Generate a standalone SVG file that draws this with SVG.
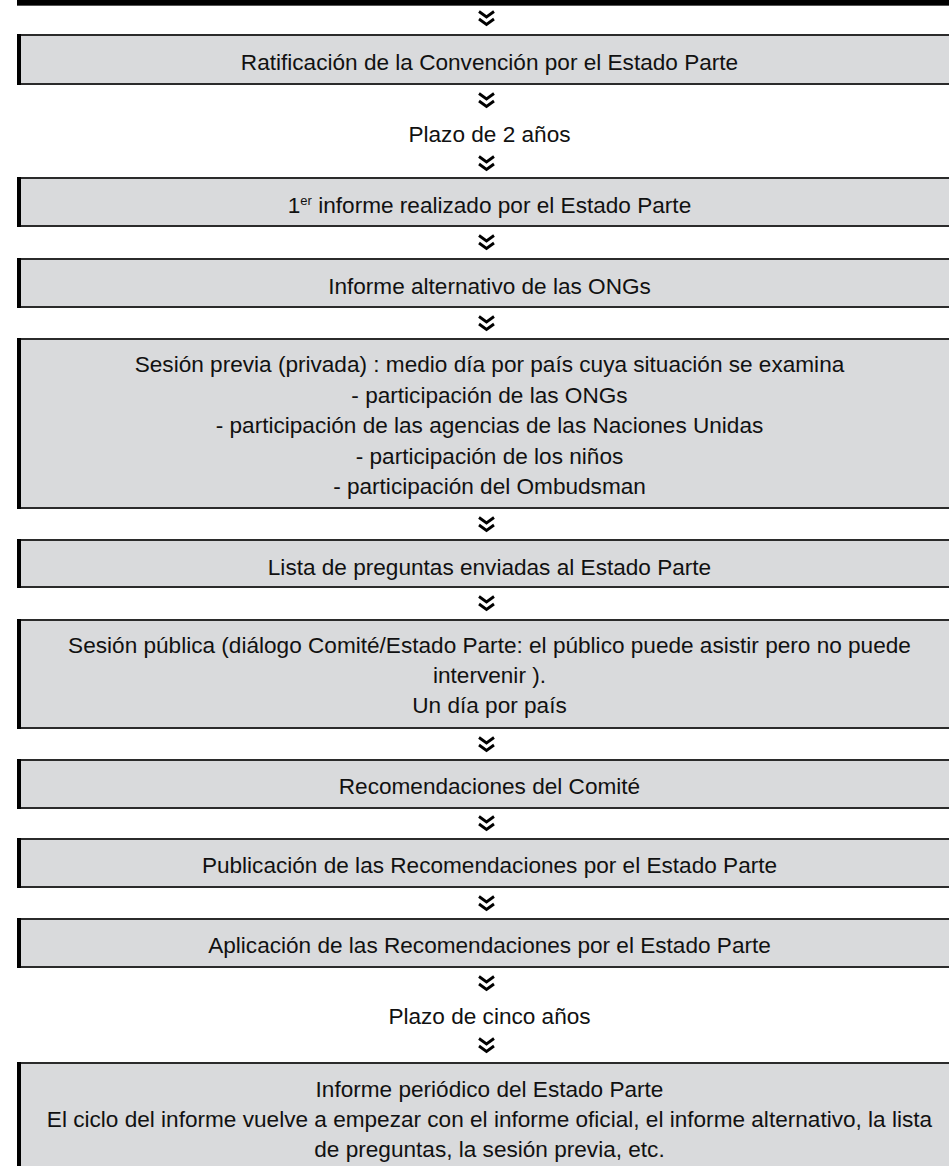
<svg xmlns="http://www.w3.org/2000/svg" width="949" height="1166" viewBox="0 0 949 1166">
<defs>
<style>
.bg{fill:#d9dadc;stroke:#2b2b2b;stroke-width:2}
.lb{fill:#000}
.t{font-family:"Liberation Sans",Arial,sans-serif;font-size:22.6px;fill:#111;text-anchor:middle}
.chev{fill:none;stroke:#000;stroke-width:2.8;stroke-linejoin:miter}
</style>
<g id="chevron">
<polyline class="chev" points="-7.5,-6.5 0,-1 7.5,-6.5"/>
<polyline class="chev" points="-7.5,1 0,6.5 7.5,1"/>
</g>
</defs>
<rect width="949" height="1166" fill="#fff"/>

<g id="top-bar">
<rect x="17" y="-10" width="940" height="15" fill="#000"/>
<rect x="17" y="5" width="940" height="1" fill="#555"/>
</g>

<g id="connectors">
<use href="#chevron" x="486.5" y="18"/>
<use href="#chevron" x="486.5" y="100"/>
<use href="#chevron" x="486.5" y="163"/>
<use href="#chevron" x="486.5" y="242"/>
<use href="#chevron" x="486.5" y="323"/>
<use href="#chevron" x="486.5" y="524"/>
<use href="#chevron" x="486.5" y="603"/>
<use href="#chevron" x="486.5" y="744"/>
<use href="#chevron" x="486.5" y="823"/>
<use href="#chevron" x="486.5" y="903"/>
<use href="#chevron" x="486.5" y="983"/>
<use href="#chevron" x="486.5" y="1045"/>
</g>

<g id="n1">
<rect class="bg" x="18" y="35" width="950" height="49"/>
<rect class="lb" x="17" y="34" width="4" height="51"/>
<text class="t" x="489.5" y="70">Ratificación de la Convención por el Estado Parte</text>
</g>

<g id="plazo1">
<text class="t" x="489.5" y="142">Plazo de 2 años</text>
</g>

<g id="n2">
<rect class="bg" x="18" y="178" width="950" height="48"/>
<rect class="lb" x="17" y="177" width="4" height="50"/>
<text class="t" x="489.5" y="213">1<tspan font-size="13" dy="-8">er</tspan><tspan dy="8"> informe realizado por el Estado Parte</tspan></text>
</g>

<g id="n3">
<rect class="bg" x="18" y="259" width="950" height="48"/>
<rect class="lb" x="17" y="258" width="4" height="50"/>
<text class="t" x="489.5" y="294">Informe alternativo de las ONGs</text>
</g>

<g id="n4">
<rect class="bg" x="18" y="339" width="950" height="169"/>
<rect class="lb" x="17" y="338" width="4" height="171"/>
<text class="t" x="489.5" y="372">Sesión previa (privada) : medio día por país cuya situación se examina</text>
<text class="t" x="489.5" y="402.5">- participación de las ONGs</text>
<text class="t" x="489.5" y="433">- participación de las agencias de las Naciones Unidas</text>
<text class="t" x="489.5" y="463.5">- participación de los niños</text>
<text class="t" x="489.5" y="494">- participación del Ombudsman</text>
</g>

<g id="n5">
<rect class="bg" x="18" y="540" width="950" height="47"/>
<rect class="lb" x="17" y="539" width="4" height="49"/>
<text class="t" x="489.5" y="575">Lista de preguntas enviadas al Estado Parte</text>
</g>

<g id="n6">
<rect class="bg" x="18" y="620" width="950" height="108"/>
<rect class="lb" x="17" y="619" width="4" height="110"/>
<text class="t" x="489.5" y="653">Sesión pública (diálogo Comité/Estado Parte: el público puede asistir pero no puede</text>
<text class="t" x="489.5" y="683">intervenir ).</text>
<text class="t" x="489.5" y="713">Un día por país</text>
</g>

<g id="n7">
<rect class="bg" x="18" y="760" width="950" height="48"/>
<rect class="lb" x="17" y="759" width="4" height="50"/>
<text class="t" x="489.5" y="794">Recomendaciones del Comité</text>
</g>

<g id="n8">
<rect class="bg" x="18" y="839" width="950" height="48"/>
<rect class="lb" x="17" y="838" width="4" height="50"/>
<text class="t" x="489.5" y="873">Publicación de las Recomendaciones por el Estado Parte</text>
</g>

<g id="n9">
<rect class="bg" x="18" y="919" width="950" height="48"/>
<rect class="lb" x="17" y="918" width="4" height="50"/>
<text class="t" x="489.5" y="953">Aplicación de las Recomendaciones por el Estado Parte</text>
</g>

<g id="plazo2">
<text class="t" x="489.5" y="1024">Plazo de cinco años</text>
</g>

<g id="n10">
<rect class="bg" x="18" y="1063" width="950" height="120"/>
<rect class="lb" x="17" y="1062" width="4" height="120"/>
<text class="t" x="489.5" y="1097">Informe periódico del Estado Parte</text>
<text class="t" x="489.5" y="1127">El ciclo del informe vuelve a empezar con el informe oficial, el informe alternativo, la lista</text>
<text class="t" x="489.5" y="1157">de preguntas, la sesión previa, etc.</text>
</g>
</svg>
